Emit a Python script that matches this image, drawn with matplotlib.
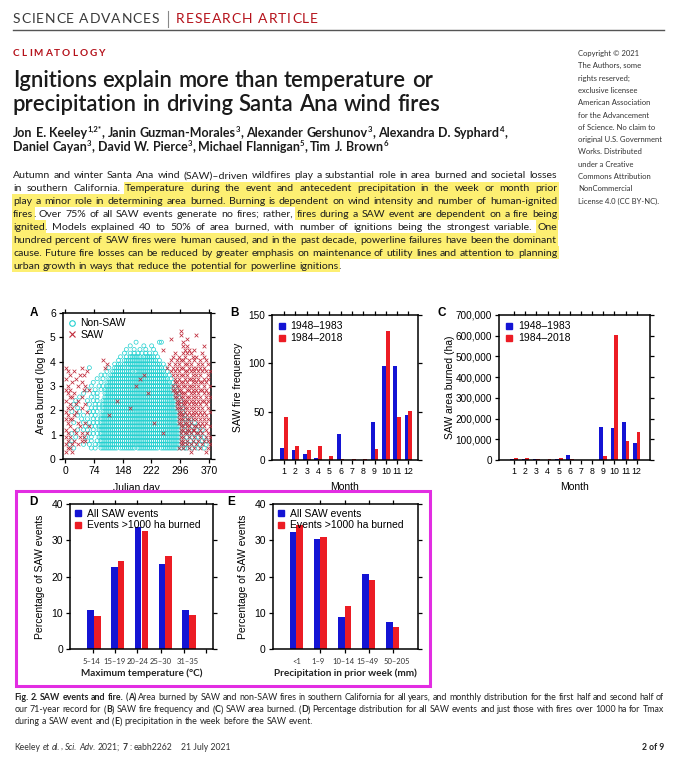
import matplotlib
matplotlib.use('Agg')
import matplotlib.pyplot as plt
from matplotlib import transforms as mtransforms
from matplotlib.patches import Rectangle
from matplotlib.lines import Line2D
from matplotlib.ticker import FixedLocator, FuncFormatter

# ---------------------------------------------------------------- data
months = [1, 2, 3, 4, 5, 6, 7, 8, 9, 10, 11, 12]
fire_freq_1948_1983 = [12, 10, 6, 2, 0, 27, 0, 0, 39, 97, 97, 47]
fire_freq_1984_2018 = [44, 14, 10, 15, 4, 1, 1, 1, 11, 133, 45, 51]
area_1948_1983 = [5000, 3000, 7000, 2000, 3000, 22000, 1000, 1000, 157000, 153000, 183000, 84000]
area_1984_2018 = [10000, 8000, 3000, 7000, 12000, 5000, 2000, 2000, 18000, 605000, 90000, 137000]
area_ticks = [0, 100000, 200000, 300000, 400000, 500000, 600000, 700000]
freq_ticks = [0, 50, 100, 150]

temp_bins = ['5–14', '15–19', '20–24', '25–30', '31–35']
temp_all_events = [10.8, 22.7, 33.8, 23.4, 10.9]
temp_big_events = [9.2, 24.4, 32.6, 25.6, 9.5]
precip_bins = ['<1', '1–9', '10–14', '15–49', '50–205']
precip_all_events = [32.4, 30.3, 8.8, 20.6, 7.4]
precip_big_events = [34.2, 30.8, 11.9, 19.1, 6.2]
pct_ticks = [0, 10, 20, 30, 40]

julian_ticks = [0, 74, 148, 222, 296, 370]
log_ticks = [0, 1, 2, 3, 4, 5, 6]

# Panel A read off the picture on a 5-day x 0.15-log grid:
# 'o' = non-SAW fire, 'x' = SAW fire, '*' = both, '.' = none
day_bin_centres = [2.5 + 5 * c for c in range(75)]
scatter_row_log_area = [5.40, 5.25, 5.10, 4.95, 4.80, 4.65, 4.50, 4.35, 4.20, 4.05,
                        3.90, 3.75, 3.60, 3.45, 3.30, 3.15, 3.00, 2.85, 2.70, 2.55,
                        2.40, 2.25, 2.10, 1.95, 1.80, 1.65, 1.50, 1.35, 1.20, 1.05,
                        0.90, 0.75, 0.60, 0.45, 0.30]
scatter_rows = [
    "..... ..... ..... ..... ..... ..... ..... ..... ..... ..... ..... ..... ..... ..... .....",
    "..... ..... ..... ..... ..... ..... ..... ..... ..... ..... ..... ....x ..... ..... .....",
    "..... ..... ..... ..... ..... ..... ..... ..... ..... ..... ..... ....x ..... ..x.. .....",
    "..... ..... ..... ..... ..... ..... ..... ..... ..... ..... ....x ..... ..x.. ..... .....",
    "..... ..... ..... ..... ..... ..... ..... .o... ..... ...oo ..... ..... x.... ..... .....",
    "..... ..... ..... ..... ..... ..... ...o. ..... o...o ..... ..... ..... x.x.. ..... .x...",
    "..... ..... ..... ..... ..... ..... .o... o..o. .o... o.... x.... ..... .x.x. .x... .....",
    "..... ..... ..... ..... ..... ..... o..o. o.o.o .o.o. .o... ..... .x... x.x.x ..... x....",
    "..... ..... ..... ..... ..... ...o. .o.oo oooo. ooooo o.o.. ..... x..x. .x... x.x.. .x...",
    "..... ..... ..... ....x ..... ..o.. ooooo ooooo ooooo oo.o. ....x ..x.x x..x. .x..x ..x..",
    "..... ..... ..... ..... .x... o.oo. ooooo ooooo oooo. oooo. o..x. .x.x. .xx.x ...x. x..x.",
    "x.... ...x. ..o.. ..... x.o.. ooooo o.ooo ooooo ooooo o.ooo .ox.. x.x.x x..x. x.x.x .x...",
    ".x..x ..... .x... ..... .o..o ooooo ooooo .oooo ooooo ooooo o.o.x .x.x. .xx.x .x.x. x.x.x",
    "..x.. ..x.x ..... ...o. o..oo ooooo ooooo ooooo *oooo ooooo oo.o. x.x.x x.x.. x.x.x ...x.",
    "x.... x.... ..... .o..o ..ooo ooooo ooooo ooo*o ooooo ooooo ooo.o .x.x. .x.xx .x.x. .x.x.",
    "...x. ...x. ....o ...o. .oooo ooooo ooooo ooooo ooooo ooooo oooo. oxx.x x.x.. x.x.x x.x..",
    ".x... .x... x..o. ..o.o .oooo ooooo ooooo o*ooo ooooo ooooo ooooo xoxx. xx.xx .x.x. .x..x",
    "x.x.. ....x .ox.. o..o. ooooo ooooo ooooo ooooo ooooo ooooo ooooo xxoxx ..xx. x.x.x x.x..",
    ".x..x ....o ....o .o... ooooo ooooo ooooo ooooo oo*oo ooooo ooooo oxxox xx..x .x.x. .x.x.",
    "..xx. ..ox. ...o. .o... ooooo ooooo ooooo ooooo ooooo ooooo ooooo oxxox x.xx. x.x.x ..x.x",
    "x.... ox... .o..o .o..o ooooo o*ooo ooooo ooooo ooooo ooooo ooooo ooxxo xxx.x .x.x. xx.x.",
    "..x.o x.... x.o.. o.o.o ooooo ooooo ooooo ooooo ooooo ooooo ooooo ooxxo xx.x. x.x.x ..x..",
    ".x.x. .o.x. ...o. o.o.o ooooo ooooo ooo*o ooooo ooooo ooooo ooooo ooxxx oxx.x .x.x. x..x.",
    "x..o. x.o.. .xo.o .o..o ooooo ooooo ooooo ooooo ooooo ooooo ooooo oooxx ox.x. x.x.x .x..x",
    ".x..x .o..o ...o. o..oo oo*oo ooooo ooooo ooooo ooooo ooooo ooooo oooxx xox.x .x.x. x.x..",
    "x.xx. ...o. .o..o .o.oo ooooo ooooo ooooo ooooo ooooo ooooo ooooo oooxx xoxxo x.x.x .x.x.",
    ".x..o .x..o x.o.o .o.oo ooooo ooooo ooooo ooooo ooooo *oooo ooooo oooxx oxxox .o.x. x.x..",
    "..x.. ..x.. o.xo. o.ooo ooooo ooooo ooooo ooooo ooooo ooooo ooooo oooox xoxx. oxxox .x..x",
    "x...x .o..o .o..o ..ooo ooooo ooooo ooooo ooooo ooooo ooooo ooooo oooox xoxxo xxo.x o.x..",
    ".x.o. x..x. .xo.o .o.oo ooooo ooooo ooooo ooooo ooooo ooooo *oooo oooox oxxox .oxxo x..x.",
    "x.x.. o.x.x o..o. ..ooo ooooo ooooo ooooo ooooo ooooo ooooo ooooo oooox x.ox. ox.ox .ox.x",
    ".x.ox ...x. xo.o. .o.oo ooooo ooooo ooooo ooooo ooooo ooooo ooooo oooox xox.o x.ox. oxox.",
    "x.ox. .x..o ..o.. o.ooo ooooo ooooo ooooo ooooo ooooo ooooo ooooo oooox xoxox .ox.o x.o.x",
    ".xx.o ..... ...o. o..oo ooooo oo.oo ooooo o.ooo ooooo ooo.o ooooo oooxo xoox. ox.ox .o.x.",
    "x..x. ..... ..... ..... ..... ..... ..... ..... ..... ..... ..... ..... ....x ..... ..x..",
]

# page text
header_left = "SCIENCE ADVANCES"
header_right = "RESEARCH ARTICLE"
section = "CLIMATOLOGY"
title_lines = ["Ignitions explain more than temperature or",
               "precipitation in driving Santa Ana wind fires"]
author_lines = [
    [("Jon E. Keeley", "b"), ("1,2*", "b sup"), (", Janin Guzman-Morales", "b"), ("3", "b sup"),
     (", Alexander Gershunov", "b"), ("3", "b sup"), (", Alexandra D. Syphard", "b"), ("4", "b sup"), (",", "b")],
    [("Daniel Cayan", "b"), ("3", "b sup"), (", David W. Pierce", "b"), ("3", "b sup"),
     (", Michael Flannigan", "b"), ("5", "b sup"), (", Tim J. Brown", "b"), ("6", "b sup")],
]
abstract_lines = [
    [("Autumn and winter Santa Ana wind (SAW)–driven wildfires play a substantial role in area burned and societal losses", "")],
    [("in southern California.", ""), (" Temperature during the event and antecedent precipitation in the week or month prior", "h")],
    [("play a minor role in determining area burned. Burning is dependent on wind intensity and number of human-ignited", "h")],
    [("fires", "h"), (". Over 75% of all SAW events generate no fires; rather,", ""), (" fires during a SAW event are dependent on a fire being", "h")],
    [("ignited", "h"), (". Models explained 40 to 50% of area burned, with number of ignitions being the strongest variable.", ""), (" One", "h")],
    [("hundred percent of SAW fires were human caused, and in the past decade, powerline failures have been the dominant", "h")],
    [("cause. Future fire losses can be reduced by greater emphasis on maintenance of utility lines and attention to planning", "h")],
    [("urban growth in ways that reduce the potential for powerline ignitions", "h"), (".", "")],
]
copyright_lines = ["Copyright © 2021", "The Authors, some", "rights reserved;", "exclusive licensee",
                   "American Association", "for the Advancement", "of Science. No claim to",
                   "original U.S. Government", "Works. Distributed", "under a Creative",
                   "Commons Attribution", "NonCommercial", "License 4.0 (CC BY-NC)."]
caption_lines = [
    [("Fig. 2. SAW events and fire.", "b"), (" (", ""), ("A", "b"),
     (") Area burned by SAW and non-SAW fires in southern California for all years, and monthly distribution for the first half and second half of", "")],
    [("our 71-year record for (", ""), ("B", "b"), (") SAW fire frequency and (", ""), ("C", "b"),
     (") SAW area burned. (", ""), ("D", "b"),
     (") Percentage distribution for all SAW events and just those with fires over 1000 ha for Tmax", "")],
    [("during a SAW event and (", ""), ("E", "b"), (") precipitation in the week before the SAW event.", "")],
]
footer_runs = [("Keeley", ""), (" et al.", "i"), (",", ""), (" Sci. Adv.", "i"), (" 2021;", ""), (" 7", "b"), (" : eabh2262", "")]
footer_date = "21 July 2021"
footer_page = "2 of 9"

# ---------------------------------------------------------------- setup
W, H = 687, 765
plt.rcParams['font.family'] = ['Liberation Sans', 'DejaVu Sans']
fig = plt.figure(figsize=(W / 100, H / 100), dpi=100)
fig.patch.set_facecolor('white')
R = fig.canvas.get_renderer()
PIX = mtransforms.Affine2D().scale(1 / W, -1 / H).translate(0, 1) + fig.transFigure

PAGE = ['Lato', 'DejaVu Sans']
HIGHLIGHT = '#fdef72'
BLUE = '#1414d4'
RED = '#ec1c24'
CYAN = '#22d0d0'
SAWRED = '#c02a3a'
MAGENTA = '#e22de2'


def text_width(s, **kw):
    t = fig.text(0, 0, s, **kw)
    w = t.get_window_extent(R).width
    t.remove()
    return w


def style_kw(st, size, family, color):
    f = st.split()
    return dict(fontsize=size * (0.62 if 'sup' in f else 1.0), family=family,
                weight='bold' if 'b' in f else ('semibold' if 'sb' in f else 'normal'),
                style='italic' if 'i' in f else 'normal', color=color)


def tokenize(runs):
    toks = []
    pending = False
    for text, st in runs:
        parts = text.split(' ')
        for i, w in enumerate(parts):
            if i > 0:
                pending = True
            if not w:
                continue
            toks.append((w, st, pending and len(toks) > 0))
            pending = False
    return toks


def line_layout(runs, size, family):
    toks = tokenize(runs)
    widths = [text_width(w, **style_kw(st, size, family, 'k')) for w, st, _ in toks]
    kw0 = style_kw('', size, family, 'k')
    sp = text_width('a a', **kw0) - text_width('aa', **kw0)
    nsp = sum(1 for t in toks if t[2])
    return toks, widths, sp, nsp


def natural_width(runs, size, family):
    toks, widths, sp, nsp = line_layout(runs, size, family)
    return sum(widths) + sp * nsp


def fit_size(runs, target, family, base=10.0):
    s = base * target / natural_width(runs, base, family)
    return s * target / natural_width(runs, s, family)


def draw_line(x0, yb, runs, size, family, color, justify=None, hl_top=9.7, hl_h=12.9):
    toks, widths, sp, nsp = line_layout(runs, size, family)
    if justify and nsp:
        sp = (justify - sum(widths)) / nsp
    x = x0
    prev_end, prev_hl = None, False
    for (w, st, spb), wd in zip(toks, widths):
        if spb:
            x += sp
        f = st.split()
        hl = 'h' in f
        if hl:
            left = prev_end if prev_hl else x - 1.5
            fig.add_artist(Rectangle((left, yb - hl_top), x + wd + 1.5 - left, hl_h, transform=PIX,
                                     facecolor=HIGHLIGHT, edgecolor='none', zorder=1))
        dy = -0.42 * size * 100 / 72 if 'sup' in f else 0
        fig.text(x, yb + dy, w, transform=PIX, ha='left', va='baseline', zorder=3,
                 **style_kw(st, size, family, color))
        prev_end, prev_hl = x + wd, hl
        x += wd


def tracked(x0, x1, yb, s, size, color, weight='normal', family=PAGE):
    kw = dict(fontsize=size, family=family, weight=weight, color=color)
    sp = text_width('a a', **kw) - text_width('aa', **kw)
    ws = [sp if c == ' ' else text_width(c, **kw) for c in s]
    extra = ((x1 - x0) - sum(ws)) / (len(s) - 1)
    x = x0
    for c, w in zip(s, ws):
        if c != ' ':
            fig.text(x, yb, c, transform=PIX, ha='left', va='baseline', **kw)
        x += w + extra


# ---------------------------------------------------------------- page header
tracked(13, 159, 23.3, header_left, 10, '#3a3a3a')
fig.add_artist(Line2D([168, 168], [11, 27], transform=PIX, color='#888888', lw=0.8))
tracked(176, 318, 23.3, header_right, 10, '#b5121b')
fig.add_artist(Line2D([13, 664], [30, 30], transform=PIX, color='#555555', lw=1.0))
tracked(13, 105, 55.5, section, 7.2, '#b5121b', weight='bold')

ts = fit_size([(title_lines[0], 'sb')], 420, PAGE)
draw_line(13, 87.3, [(title_lines[0], 'sb')], ts, PAGE, '#1b1b1b')
draw_line(13, 110.6, [(title_lines[1], 'sb')], ts, PAGE, '#1b1b1b')

asz = fit_size(author_lines[0], 497, PAGE)
draw_line(13, 137.3, author_lines[0], asz, PAGE, '#1b1b1b')
draw_line(13, 151.0, author_lines[1], asz, PAGE, '#1b1b1b')

abs_size = min(fit_size(l, 544, PAGE) for l in abstract_lines[:7])
for i, runs in enumerate(abstract_lines):
    draw_line(13, 178.3 + 12.9 * i, runs, abs_size, PAGE, '#1e1e1e',
              justify=544 if i < 7 else None)

csz = fit_size([(copyright_lines[7], '')], 85, PAGE)
for i, s in enumerate(copyright_lines):
    fig.text(578, 56 + 12.3 * i, s, transform=PIX, ha='left', va='baseline',
             **style_kw('', csz, PAGE, '#333333'))

cap_x0 = 14.5
cap_size = min(fit_size(l, 664 - cap_x0, PAGE) for l in caption_lines[:2])
for i, runs in enumerate(caption_lines):
    draw_line(cap_x0, 700 + 12.2 * i, runs, cap_size, PAGE, '#222222',
              justify=(664 - cap_x0) if i < 2 else None)

fsz = fit_size(footer_runs, 156, PAGE)
draw_line(cap_x0, 750, footer_runs, fsz, PAGE, '#333333')
fig.text(181, 750, footer_date, transform=PIX, ha='left', va='baseline',
         **style_kw('', fsz, PAGE, '#333333'))
fig.text(664, 750, footer_page, transform=PIX, ha='right', va='baseline',
         **style_kw('b', fsz, PAGE, '#222222'))

# ---------------------------------------------------------------- magenta frame
fig.add_artist(Rectangle((16, 491.5), 414, 194.5, transform=PIX, facecolor='white',
                         edgecolor=MAGENTA, lw=2.2, zorder=0.5))


def add_ax(l, t, r, b, z=0):
    ax = fig.add_axes([l / W, 1 - b / H, (r - l) / W, (b - t) / H], zorder=z)
    for s in ax.spines.values():
        s.set_linewidth(1.1)
    ax.tick_params(which='both', direction='out', top=True, right=True, length=3,
                   width=0.9, labelsize=7.2, pad=2)
    return ax


def panel_letter(x, y, s):
    fig.text(x, y, s, transform=PIX, ha='left', va='center', fontsize=8.5, weight='bold')


# ---------------------------------------------------------------- A
nonsaw_day, nonsaw_log, saw_day, saw_log = [], [], [], []
for log_a, row in zip(scatter_row_log_area, scatter_rows):
    cells = row.replace(' ', '')
    for col, ch in enumerate(cells):
        if ch in 'o*':
            nonsaw_day.append(day_bin_centres[col])
            nonsaw_log.append(log_a)
        if ch in 'x*':
            saw_day.append(day_bin_centres[col])
            saw_log.append(log_a)

axA = add_ax(62.7, 313, 211, 459)
axA.scatter(nonsaw_day, nonsaw_log, s=8.5, facecolors='none', edgecolors=CYAN, linewidths=0.5, zorder=2)
axA.scatter(saw_day, saw_log, s=7, marker='x', c=SAWRED, linewidths=0.55, zorder=3)
axA.set_xlim(-6, 375)
axA.set_ylim(0, 6)
axA.set_xticks(julian_ticks)
axA.set_yticks(log_ticks)
axA.tick_params(labelsize=7.5)
axA.set_xlabel('Julian day', fontsize=7.5)
axA.xaxis.set_label_coords(0.5, -(483 - 459) / 146)
axA.set_ylabel('Area burned (log ha)', fontsize=7.5)
axA.yaxis.set_label_coords((46 - 62.7) / 148.3, 0.5)
hA = [Line2D([], [], ls='none', marker='o', mfc='none', mec=CYAN, ms=4, mew=0.8),
      Line2D([], [], ls='none', marker='x', color=SAWRED, ms=4, mew=0.8)]
axA.legend(hA, ['Non-SAW', 'SAW'], loc='upper left', frameon=False, fontsize=7.5,
           handlelength=0.8, handletextpad=0.4, labelspacing=0.15, borderaxespad=0.3, borderpad=0.2)
panel_letter(30, 313, 'A')

# ---------------------------------------------------------------- B
bw = 0.34
axB = add_ax(271.7, 315, 418, 460)
axB.bar([m - bw / 2 for m in months], fire_freq_1948_1983, bw, color=BLUE)
axB.bar([m + bw / 2 for m in months], fire_freq_1984_2018, bw, color=RED)
axB.set_xlim(-0.1, 12.85)
axB.set_ylim(0, 150)
axB.set_xticks(months)
axB.set_yticks(freq_ticks)
axB.tick_params(axis='x', labelsize=6.3)
axB.set_xlabel('Month', fontsize=7.5)
axB.xaxis.set_label_coords(0.5, -(482 - 460) / 145)
axB.set_ylabel('SAW fire frequency', fontsize=7.5)
axB.yaxis.set_label_coords((243 - 271.7) / 146.3, 0.5)
hB = [Line2D([], [], ls='none', marker='s', color=BLUE, ms=3.8),
      Line2D([], [], ls='none', marker='s', color=RED, ms=3.8)]
axB.legend(hB, ['1948–1983', '1984–2018'], loc='upper left', frameon=False, fontsize=7.5,
           handlelength=0.7, handletextpad=0.5, labelspacing=0.2, borderaxespad=0.4, borderpad=0.2)
panel_letter(230, 313, 'B')

# ---------------------------------------------------------------- C
axC = add_ax(499, 315, 650, 460)
axC.bar([m - bw / 2 for m in months], area_1948_1983, bw, color=BLUE)
axC.bar([m + bw / 2 for m in months], area_1984_2018, bw, color=RED)
axC.set_xlim(-0.37, 13.2)
axC.set_ylim(0, 700000)
axC.set_xticks(months)
axC.set_yticks(area_ticks)
axC.yaxis.set_major_formatter(FuncFormatter(lambda v, _: f'{int(v):,}'))
axC.tick_params(axis='x', labelsize=6.3)
axC.set_xlabel('Month', fontsize=7.5)
axC.xaxis.set_label_coords(0.5, -(482 - 460) / 145)
axC.set_ylabel('SAW area burned (ha)', fontsize=7.5)
axC.yaxis.set_label_coords((455 - 499) / 151, 0.5)
axC.legend(hB, ['1948–1983', '1984–2018'], loc='upper left', frameon=False, fontsize=7.5,
           handlelength=0.7, handletextpad=0.5, labelspacing=0.2, borderaxespad=0.4, borderpad=0.2)
panel_letter(438, 313, 'C')


# ---------------------------------------------------------------- D / E
def pct_panel(l, r, cats, all_ev, big_ev, xlim, label_pos, minor_pos, xlabel, ylab_edge):
    ax = add_ax(l, 504, r, 649.3, z=2)
    w = 0.28
    pos = list(range(len(cats)))
    ax.bar([p - w / 2 for p in pos], all_ev, w, color=BLUE)
    ax.bar([p + w / 2 for p in pos], big_ev, w, color=RED)
    ax.set_xlim(*xlim)
    ax.set_ylim(0, 40)
    ax.set_yticks(pct_ticks)
    ax.tick_params(axis='y', labelsize=7.5)
    ax.set_xticks(label_pos, cats)
    ax.tick_params(axis='x', which='major', length=0, pad=6.2, labelsize=5.5, labelcolor='#333333')
    for lb in ax.get_xticklabels():
        lb.set_family(PAGE)
    ax.xaxis.set_minor_locator(FixedLocator(minor_pos))
    ax.tick_params(axis='x', which='minor', length=3, width=0.9, top=True, bottom=True)
    ax.set_xlabel(xlabel, fontsize=7.2, family=PAGE, weight='bold', color='#222222')
    ax.xaxis.set_label_coords(0.5, -(668.5 - 649.3) / 145.3)
    ax.set_ylabel('Percentage of SAW events', fontsize=7.5)
    ax.yaxis.set_label_coords((ylab_edge - l) / (r - l), 0.5)
    h = [Line2D([], [], ls='none', marker='s', color=BLUE, ms=3.8),
         Line2D([], [], ls='none', marker='s', color=RED, ms=3.8)]
    ax.legend(h, ['All SAW events', 'Events >1000 ha burned'], loc='upper left', frameon=False,
              fontsize=7.5, handlelength=0.7, handletextpad=0.5, labelspacing=0.15,
              borderaxespad=0.25, borderpad=0.2)
    return ax


axD = pct_panel(70, 213, temp_bins, temp_all_events, temp_big_events, (-1.01, 5.01),
                [-0.12, 0.86, 1.84, 2.82, 3.95],
                [-0.03, 0.9, 1.83, 2.81, 3.77, 4.72], 'Maximum temperature (°C)', 45)
panel_letter(29, 502, 'D')
axE = pct_panel(272.7, 418, precip_bins, precip_all_events, precip_big_events, (-0.98, 5.05),
                [0, 0.92, 1.95, 2.97, 4.17],
                [0, 1, 2, 3, 4], 'Precipitation in prior week (mm)', 248)
panel_letter(227, 502, 'E')

fig.savefig('out.png', dpi=100, facecolor='white')
